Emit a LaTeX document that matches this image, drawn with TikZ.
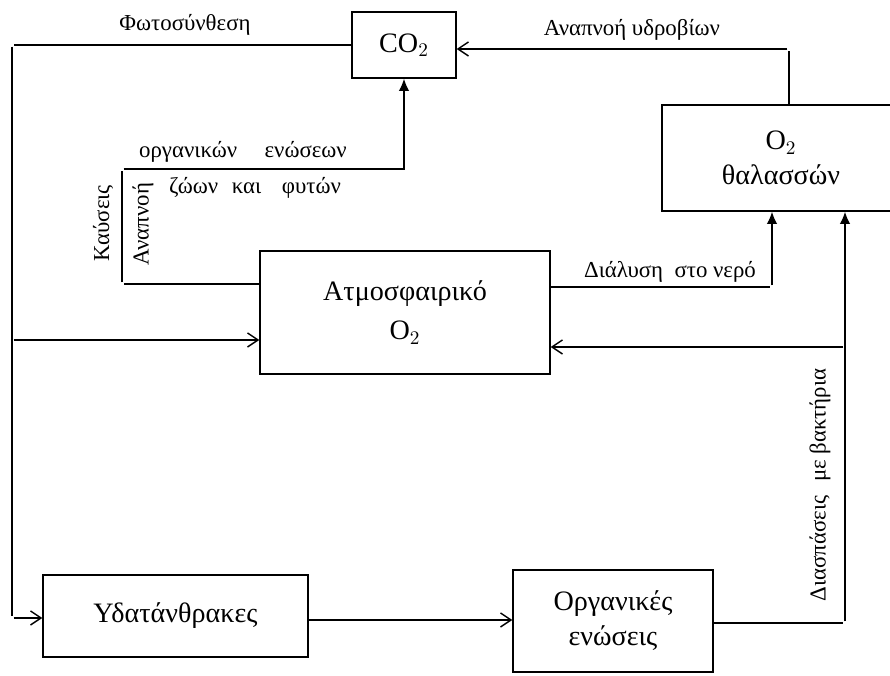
\documentclass[tikz,border=0pt]{standalone}
\usepackage{fontspec}
\setmainfont{Liberation Serif}
\usepackage{tikz}
\usetikzlibrary{arrows.meta}

\begin{document}
\begin{tikzpicture}[line width=0.8pt]
\tikzstyle{box} = [draw, rectangle, inner sep=0, align=center, font=\fontsize{16}{20}\selectfont]
\tikzstyle{lab} = [inner sep=0, font=\fontsize{13}{15}\selectfont]
\tikzstyle{arr} = [-{Straight Barb[length=6pt,width=8pt]}]
\tikzstyle{arrf} = [-{Latex[length=7pt,width=6pt]}]

\useasboundingbox (0,0) rectangle (17.8,13.52);

\node[box, minimum width=2.08cm, minimum height=1.32cm] (co2) at (8.08,12.62) {CO$_2$};
\node[box, minimum width=5.8cm, minimum height=2.46cm] (atm) at (8.1,7.27) {Ατμοσφαιρικό\\[2pt] O$_2$};
\node[box, minimum width=4.76cm, minimum height=2.12cm] (sea) at (15.62,10.36) {O$_2$\\ θαλασσών};
\node[box, minimum width=5.3cm, minimum height=1.64cm] (ydat) at (3.51,1.2) {Υδατάνθρακες};
\node[box, minimum width=4.0cm, minimum height=2.04cm] (org) at (12.26,1.1) {Οργανικές\\ ενώσεις};

\node[inner sep=0] (v1) at (0.24,12.62) {};
\node[inner sep=0] (v2) at (0.24,1.16) {};
\node[inner sep=0] (v3) at (0.24,6.72) {};
\node[inner sep=0] (v4) at (2.44,7.84) {};
\node[inner sep=0] (v5) at (2.44,10.14) {};
\node[inner sep=0] (v6) at (15.78,12.54) {};
\node[inner sep=0] (v7) at (15.44,7.78) {};
\node[inner sep=0] (v8) at (16.9,1.06) {};
\node[inner sep=0] (v9) at (16.9,6.58) {};

% photosynthesis
\draw[arr] (co2.west) -- (v1) -- (v2) -- (v2 -| ydat.west);
\draw[arr] (v3) -- (v3 -| atm.west);
% burning, respiration
\draw[arrf] (v4 -| atm.west) -- (v4) -- (v5) -| (co2.south);
\draw[arr] (v6 |- sea.north) -- (v6) -- (v6 -| co2.east);
\draw[arrf] (v7 -| atm.east) -- (v7) -- (v7 |- sea.south);
\draw[arr] (0,1.12 -| ydat.east) -- (0,1.12 -| org.west);
\draw[arrf] (v8 -| org.east) -- (v8) -- (v8 |- sea.south);
\draw[arr] (v9) -- (v9 -| atm.east);

\node[lab] (l1) at (3.7,13.02) {Φωτοσύνθεση};
\node[lab] (l2) at (12.64,12.92) {Αναπνοή υδροβίων};
\node[lab] (l3) at (4.86,10.48) {οργανικών\hspace{1.2em}ενώσεων};
\node[lab] (l4) at (5.1,9.76) {ζώων\hspace{0.6em}και\hspace{0.9em}φυτών};
\node[lab, rotate=90] (l5) at (2.06,9.06) {Καύσεις};
\node[lab, rotate=90] (l6) at (2.86,9.04) {Αναπνοή};
\node[lab] (l7) at (13.4,8.08) {Διάλυση\hspace{0.5em}στο νερό};
\node[lab, rotate=90] (l8) at (16.4,3.82) {Διασπάσεις\hspace{0.6em}με βακτήρια};

\end{tikzpicture}
\end{document}
